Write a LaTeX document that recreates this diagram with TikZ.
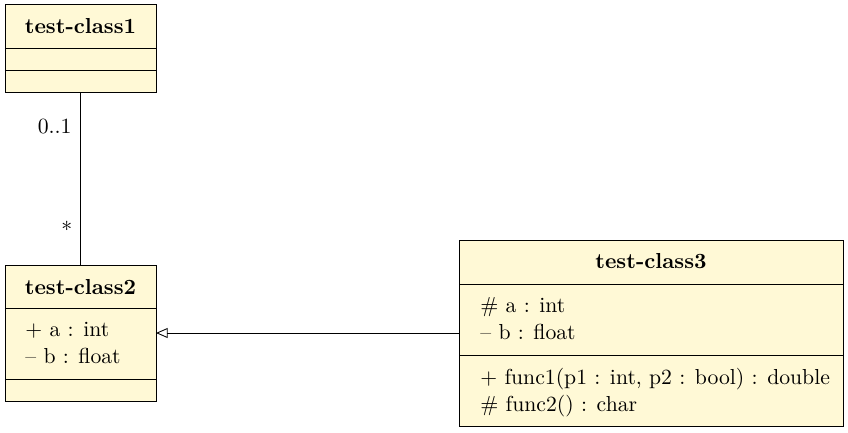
\documentclass[tikz,border=0pt]{standalone}
\usetikzlibrary{arrows.meta}
\definecolor{classfill}{RGB}{255,249,214}
\tikzset{
  classbox/.style={draw=black, fill=classfill, line width=0.4pt, inner sep=0pt, outer sep=0pt, rectangle},
  divider/.style={draw=black, line width=0.4pt},
  title/.style={anchor=base, inner sep=0pt, font=\bfseries},
  member/.style={anchor=base west, inner sep=0pt},
  mult/.style={inner sep=0pt},
  link/.style={draw=black, line width=0.4pt},
  inherit/.style={draw=black, line width=0.4pt, -{Triangle[open,length=5.4pt,width=4.6pt]}}
}
\begin{document}
\begin{tikzpicture}[x=0.461pt, y=-0.461pt]
\useasboundingbox (0,0) rectangle (848,432);
% class 1
\node[classbox, minimum width=151*0.461pt, minimum height=88*0.461pt] (c1) at (80.5,48) {};
\draw[divider] (5,48) -- (156,48);
\draw[divider] (5,70) -- (156,70);
\node[title] (c1t) at (80.5,33) {test-class1};
% class 2
\node[classbox, minimum width=151*0.461pt, minimum height=136*0.461pt] (c2) at (80.5,333) {};
\draw[divider] (5,308) -- (156,308);
\draw[divider] (5,379) -- (156,379);
\node[title] (c2t) at (80.5,294) {test-class2};
\node[member] (c2a) at (25,336) {$+$ a : int};
\node[member] (c2b) at (25,363) {-- b : float};
% class 3
\node[classbox, minimum width=384*0.461pt, minimum height=186*0.461pt] (c3) at (651,333) {};
\draw[divider] (459,284) -- (843,284);
\draw[divider] (459,355) -- (843,355);
\node[title] (c3t) at (651,268) {test-class3};
\node[member] (c3a) at (480,312) {\# a : int};
\node[member] (c3b) at (480,339) {-- b : float};
\node[member] (c3c) at (480,384) {$+$ func1(p1 : int, p2 : bool) : double};
\node[member] (c3d) at (480,411) {\# func2() : char};
% connectors
\draw[link] (c1.south) -- (c2.north);
\node[mult, anchor=base east] (m1) at (72,133) {0..1};
\node[mult] (m2) at (66.7,229) {*};
\draw[inherit] (c3.west) -- (c2.east);
\end{tikzpicture}
\end{document}
